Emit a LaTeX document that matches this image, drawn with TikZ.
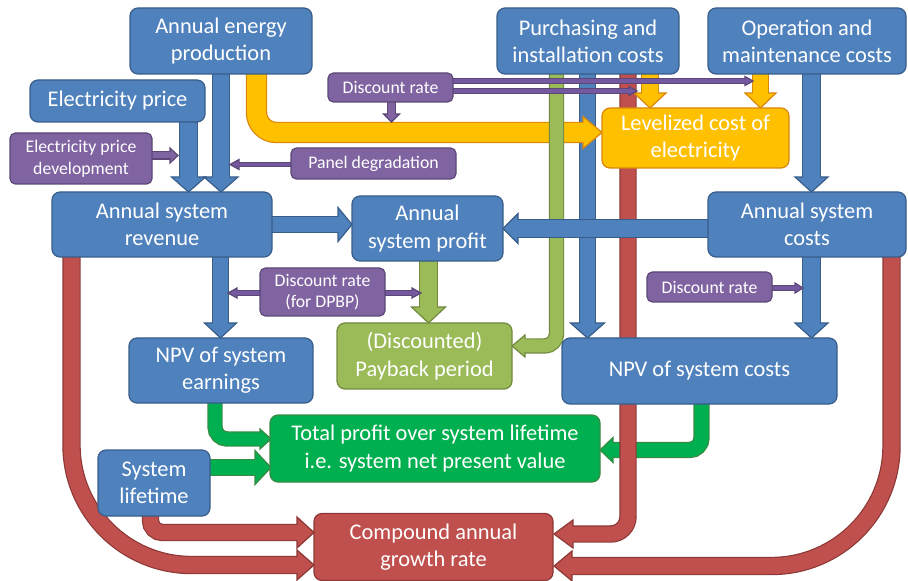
\documentclass[tikz,border=0pt]{standalone}
\usepackage{fontspec}
\setmainfont{Carlito}
\usetikzlibrary{calc}
\definecolor{bfill}{HTML}{4F81BD}\definecolor{bline}{HTML}{385D8A}
\definecolor{pfill}{HTML}{8064A2}\definecolor{pline}{HTML}{5C4776}
\definecolor{plfill}{HTML}{7459A0}
\definecolor{ofill}{HTML}{FFC000}\definecolor{oline}{HTML}{D9860B}
\definecolor{lgfill}{HTML}{9BBB59}\definecolor{lgline}{HTML}{71893F}
\definecolor{gfill}{HTML}{00B050}\definecolor{gline}{HTML}{3A8A44}
\definecolor{rfill}{HTML}{C0504D}\definecolor{rline}{HTML}{8C3836}
% block arrow: fill, border, shaft width(px), head half width(px), shaft path (ends at head base), head base, tip
\newcommand\barrow[7]{%
  \pgfmathsetmacro\bwo{(#3+2.4)*0.75}%
  \pgfmathsetmacro\bwi{#3*0.75}%
  \pgfmathsetmacro\hwd{#4*0.75}%
  \draw[draw=#2, line width=\bwo pt] #5;
  \filldraw[fill=#1, draw=#2, line width=0.9pt, line join=miter] ($(#6)!\hwd pt!90:(#7)$) -- (#7) -- ($(#6)!\hwd pt!-90:(#7)$) -- cycle;
  \draw[draw=#1, line width=\bwi pt] #5;
  \draw[draw=#1, line width=\bwi pt] (#6) -- ($(#6)!1.2pt!(#7)$);
}
\tikzset{
  box/.style={rounded corners=6pt, line width=0.9pt, text=white, align=center, inner sep=0pt,
    font=\fontsize{16.8}{20.5}\selectfont},
  bbox/.style={box, draw=bline, fill=bfill},
  pbox/.style={box, draw=pline, fill=pfill, rounded corners=4pt, font=\fontsize{13.3}{16.2}\selectfont},
  obox/.style={box, draw=oline, fill=ofill},
  lgbox/.style={box, draw=lgline, fill=lgfill},
  gbox/.style={box, draw=gline, fill=gfill},
  rbox/.style={box, draw=rline, fill=rfill},
}
\begin{document}
\begin{tikzpicture}[x=0.75pt,y=-0.75pt]
\useasboundingbox (0,0) rectangle (908,581);
% ---------- arrows (drawn beneath the boxes) ----------
\barrow{rfill}{rline}{16}{15}{(71.5,250) [rounded corners=90pt] -- (71.5,565) -- (297,565)}{297,565}{314,565}
\barrow{rfill}{rline}{16}{15}{(891.5,250) [rounded corners=90pt] -- (891.5,566) -- (572,566)}{572,566}{554,566}
\barrow{rfill}{rline}{15}{15.5}{(150.5,510) [rounded corners=9pt] -- (150.5,532.5) -- (297,532.5)}{297,532.5}{314,532.5}
\barrow{gfill}{gline}{14}{12.5}{(701.5,398) [rounded corners=9pt] -- (701.5,450) -- (613,450)}{613,450}{600,450}
\barrow{bfill}{bline}{15}{17}{(587.5,70) -- (587.5,323)}{587.5,323}{587.5,338}
\barrow{ofill}{oline}{19}{16}{(256.5,70) [rounded corners=15pt] -- (256.5,132.5) -- (583,132.5)}{583,132.5}{602,132.5}
\barrow{lgfill}{lgline}{13}{11}{(556.5,70) [rounded corners=9pt] -- (556.5,346) -- (525,346)}{525,346}{512,346}
\barrow{rfill}{rline}{15}{14}{(628,70) [rounded corners=13pt] -- (628,534) -- (573,534)}{573,534}{554,534}
\barrow{bfill}{bline}{17}{16.5}{(811.5,70) -- (811.5,177)}{811.5,177}{811.5,192}
\barrow{bfill}{bline}{17}{16.5}{(811.5,250) -- (811.5,323)}{811.5,323}{811.5,338}
\barrow{bfill}{bline}{17}{15}{(712,228.5) -- (518,228.5)}{518,228.5}{503,228.5}
\barrow{bfill}{bline}{15}{17}{(268,224.5) -- (338,224.5)}{338,224.5}{352,224.5}
\barrow{bfill}{bline}{15}{16}{(220.5,253) -- (220.5,323)}{220.5,323}{220.5,338}
\barrow{bfill}{bline}{17}{17}{(188.5,118) -- (188.5,177)}{188.5,177}{188.5,192}
\barrow{bfill}{bline}{16}{17}{(221,70) -- (221,177)}{221,177}{221,192}
\barrow{ofill}{oline}{16}{16}{(650,70) -- (650,93)}{650,93}{650,108}
\barrow{ofill}{oline}{15}{15.5}{(760.5,70) -- (760.5,93)}{760.5,93}{760.5,108}
\barrow{lgfill}{lgline}{17}{17}{(428.5,258) -- (428.5,307)}{428.5,307}{428.5,323}
\barrow{gfill}{gline}{13}{10}{(215,398) [rounded corners=9pt] -- (215,439) -- (260,439)}{260,439}{271,439}
\barrow{gfill}{gline}{15}{17}{(206,467.5) -- (255,467.5)}{255,467.5}{271,467.5}
% purple influence arrows
\barrow{pfill}{pline}{6}{7.5}{(150,155.5) -- (170,155.5)}{170,155.5}{178,155.5}
\barrow{plfill}{pline}{3.5}{5}{(293,164.5) -- (239,164.5)}{239,164.5}{230,164.5}
\barrow{pfill}{pline}{7}{8}{(391.5,100) -- (391.5,114)}{391.5,114}{391.5,122}
\barrow{plfill}{pline}{3.5}{4.5}{(451,81) -- (745,81)}{745,81}{753,81}
\barrow{plfill}{pline}{3.5}{4.5}{(451,91) -- (629,91)}{629,91}{637,91}
\barrow{plfill}{pline}{3.5}{5}{(263,293) -- (237,293)}{237,293}{228,293}
\barrow{plfill}{pline}{3.5}{5}{(382,293) -- (412,293)}{412,293}{421,293}
\barrow{plfill}{pline}{3.5}{5}{(770,288) -- (795,288)}{795,288}{803,288}
% ---------- boxes ----------
\node[bbox, minimum width=136.5pt, minimum height=49.5pt] (aep) at (221,41) {Annual energy\\production};
\node[bbox, minimum width=131.25pt, minimum height=31.5pt] (ep) at (117.5,101) {Electricity price};
\node[pbox, minimum width=106.5pt, minimum height=38.25pt] (epd) at (81,158.5) {Electricity price\\development};
\node[pbox, minimum width=93.75pt, minimum height=21.75pt] (dr1) at (390.5,87.5) {Discount rate};
\node[pbox, minimum width=123.75pt, minimum height=23.25pt] (pd) at (373.5,163.5) {Panel degradation};
\node[bbox, minimum width=136.5pt, minimum height=49.5pt] (pic) at (588,41) {Purchasing and\\installation costs};
\node[bbox, minimum width=148.5pt, minimum height=49.5pt] (om) at (807,41) {Operation and\\maintenance costs};
\node[obox, minimum width=140.25pt, minimum height=45pt] (lcoe) at (695.5,138) {Levelized cost of\\electricity};
\node[bbox, minimum width=165pt, minimum height=48.75pt] (asr) at (162,224.5) {Annual system\\revenue};
\node[bbox, minimum width=113.25pt, minimum height=48.75pt] (asp) at (427.5,228.5) {Annual\\system profit};
\node[bbox, minimum width=148.5pt, minimum height=48.75pt] (asc) at (807,224.5) {Annual system\\costs};
\node[pbox, minimum width=93.75pt, minimum height=36pt] (dr2) at (322.5,292) {Discount rate\\(for DPBP)};
\node[pbox, minimum width=93.75pt, minimum height=22.5pt] (dr3) at (709.5,287) {Discount rate};
\node[lgbox, minimum width=131.25pt, minimum height=49.5pt] (pp) at (424.5,356) {(Discounted)\\Payback period};
\node[bbox, minimum width=138pt, minimum height=48.75pt] (npve) at (221,370.5) {NPV of system\\earnings};
\node[bbox, minimum width=206.25pt, minimum height=49.5pt] (npvc) at (699.5,371) {NPV of system costs};
\node[gbox, minimum width=247.5pt, minimum height=50.25pt] (tp) at (435,448.5) {Total profit over system lifetime\\i.e. system net present value};
\node[bbox, minimum width=84pt, minimum height=49.5pt] (sl) at (154,483) {System\\lifetime};
\node[rbox, minimum width=179.25pt, minimum height=50.25pt] (cagr) at (433.5,547) {Compound annual\\growth rate};
\end{tikzpicture}
\end{document}
